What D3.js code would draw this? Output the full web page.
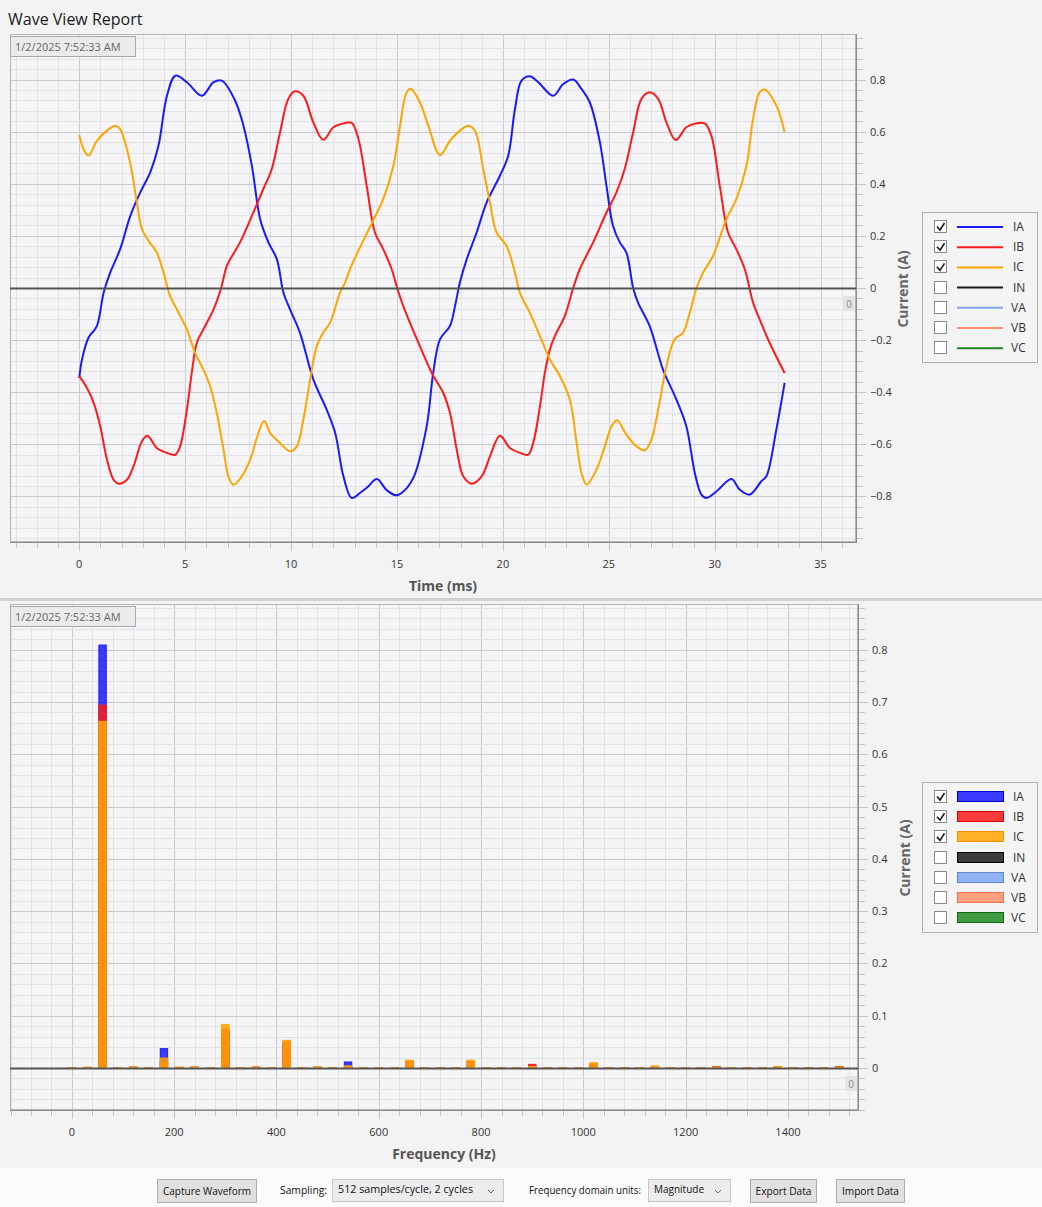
<!DOCTYPE html>
<html><head><meta charset="utf-8">
<script src="https://cdn.jsdelivr.net/npm/d3@7"></script>
<style>
html,body{margin:0;padding:0;background:#f3f3f3;}
svg{display:block;font-family:"Open Sans","Noto Sans",sans-serif;}
</style></head><body>
<svg id="c" width="1042" height="1207"></svg>
<script>
// ---------------- DATA ----------------
const TITLE = "Wave View Report";
const TIMESTAMP = "1/2/2025 7:52:33 AM";
const CHANNELS = ["IA","IB","IC","IN","VA","VB","VC"];
const CHANNEL_ON = [true,true,true,false,false,false,false];
const CHANNEL_COLORS = ["#1a1aff","#ff1a1a","#ffa500","#1a1a1a","#7fa6ee","#ff8f6b","#228b22"];
const CHANNEL_DARK = ["#0000cc","#dd0000","#f09000","#000000","#5f86d0","#f07050","#116611"];

const TIME_TICKS = [0,5,10,15,20,25,30,35];
const WAVE_Y_TICKS = [-0.8,-0.6,-0.4,-0.2,0,0.2,0.4,0.6,0.8];
const FREQ_TICKS = [0,200,400,600,800,1000,1200,1400];
const SPEC_Y_TICKS = [0,0.1,0.2,0.3,0.4,0.5,0.6,0.7,0.8];

// time (ms), current (A)
const IA_WAVE = [[0,-0.345],[0.13,-0.274],[0.44,-0.19],[0.83,-0.146],[1.15,-0.018],[1.46,0.059],[1.93,0.149],[2.41,0.277],[2.88,0.367],[3.35,0.444],[3.74,0.546],[4.14,0.738],[4.54,0.815],[5.08,0.79],[5.79,0.738],[6.34,0.79],[6.73,0.796],[7.36,0.719],[7.75,0.623],[8.15,0.469],[8.54,0.264],[8.93,0.175],[9.33,0.11],[9.64,-0.018],[9.95,-0.082],[10.42,-0.172],[11.05,-0.351],[11.68,-0.467],[12.08,-0.556],[12.47,-0.723],[12.86,-0.806],[13.25,-0.787],[13.6,-0.765],[14.05,-0.733],[14.5,-0.775],[14.95,-0.796],[15.25,-0.785],[15.77,-0.729],[16.4,-0.531],[16.71,-0.326],[17.03,-0.197],[17.5,-0.146],[17.74,-0.069],[17.97,0.021],[18.29,0.11],[18.76,0.213],[19.23,0.328],[19.86,0.431],[20.25,0.508],[20.57,0.687],[20.88,0.796],[21.27,0.813],[21.67,0.79],[22.37,0.738],[22.85,0.783],[23.32,0.8],[23.71,0.764],[24.1,0.713],[24.58,0.559],[24.89,0.392],[25.2,0.238],[25.52,0.175],[25.83,0.136],[26.15,0],[26.38,-0.056],[26.93,-0.146],[27.56,-0.313],[28.19,-0.428],[28.66,-0.531],[29.06,-0.71],[29.37,-0.793],[29.61,-0.806],[30.08,-0.781],[30.79,-0.733],[31.18,-0.774],[31.65,-0.793],[32.2,-0.742],[32.44,-0.723],[32.91,-0.543],[33.3,-0.364]];
const IB_WAVE = [[0,-0.338],[0.36,-0.383],[0.68,-0.441],[0.99,-0.531],[1.31,-0.659],[1.62,-0.736],[1.86,-0.751],[2.25,-0.736],[2.56,-0.685],[2.96,-0.588],[3.22,-0.567],[3.66,-0.614],[4.14,-0.633],[4.53,-0.64],[4.76,-0.608],[5.08,-0.467],[5.31,-0.326],[5.55,-0.21],[5.86,-0.159],[6.34,-0.082],[6.7,0],[6.97,0.085],[7.59,0.175],[8.22,0.29],[8.69,0.38],[9.09,0.457],[9.48,0.598],[9.87,0.726],[10.19,0.755],[10.58,0.738],[11.05,0.636],[11.52,0.569],[12.0,0.617],[12.47,0.632],[12.86,0.634],[13.18,0.572],[13.57,0.392],[13.96,0.213],[14.35,0.149],[14.75,0.072],[15.0,0.002],[15.3,-0.07],[15.61,-0.133],[16.08,-0.223],[16.64,-0.326],[17.18,-0.402],[17.5,-0.479],[17.82,-0.62],[18.13,-0.723],[18.52,-0.751],[19.0,-0.723],[19.39,-0.646],[19.86,-0.567],[20.33,-0.614],[20.8,-0.633],[21.19,-0.64],[21.43,-0.595],[21.75,-0.454],[21.98,-0.326],[22.22,-0.236],[22.45,-0.185],[22.92,-0.108],[23.32,0],[23.63,0.072],[24.26,0.175],[24.89,0.29],[25.36,0.367],[25.75,0.457],[26.15,0.598],[26.54,0.726],[26.93,0.751],[27.33,0.726],[27.72,0.636],[28.16,0.568],[28.66,0.617],[29.14,0.632],[29.53,0.632],[29.84,0.585],[30.24,0.392],[30.63,0.213],[31.02,0.149],[31.42,0.072],[31.81,-0.056],[32.12,-0.12],[32.59,-0.21],[33.3,-0.326]];
const IC_WAVE = [[0,0.587],[0.2,0.533],[0.44,0.508],[0.83,0.565],[1.31,0.604],[1.7,0.623],[1.93,0.61],[2.25,0.533],[2.49,0.444],[2.72,0.328],[2.96,0.226],[3.27,0.181],[3.66,0.136],[3.98,0.059],[4.29,-0.031],[4.69,-0.095],[5.08,-0.159],[5.47,-0.249],[5.86,-0.313],[6.18,-0.377],[6.49,-0.479],[6.81,-0.62],[7.04,-0.723],[7.28,-0.755],[7.67,-0.723],[8.07,-0.659],[8.46,-0.556],[8.73,-0.511],[9.01,-0.556],[9.48,-0.595],[9.95,-0.627],[10.27,-0.608],[10.58,-0.505],[10.9,-0.351],[11.21,-0.223],[11.52,-0.172],[11.84,-0.133],[12.31,-0.018],[12.55,0.021],[12.78,0.072],[13.25,0.155],[13.88,0.26],[14.35,0.341],[14.83,0.469],[15.14,0.62],[15.45,0.75],[15.65,0.765],[16.08,0.713],[16.48,0.623],[17.03,0.51],[17.5,0.565],[17.97,0.604],[18.37,0.623],[18.68,0.604],[19.07,0.457],[19.39,0.328],[19.7,0.213],[20.17,0.162],[20.57,0.059],[20.8,-0.018],[21.27,-0.095],[21.75,-0.185],[22.22,-0.274],[22.69,-0.338],[23.16,-0.428],[23.48,-0.595],[23.71,-0.71],[23.95,-0.755],[24.42,-0.697],[24.81,-0.608],[25.13,-0.531],[25.39,-0.508],[25.83,-0.563],[26.31,-0.608],[26.7,-0.623],[27.01,-0.582],[27.33,-0.467],[27.72,-0.3],[28.11,-0.197],[28.5,-0.172],[28.82,-0.095],[29.14,0],[29.45,0.059],[29.92,0.123],[30.55,0.264],[31.02,0.341],[31.5,0.469],[31.81,0.649],[32.12,0.751],[32.36,0.762],[32.91,0.7],[33.3,0.598]];

const FREQ_BINS = [0,30,60,90,120,150,180,210,240,270,
 300,330,360,390,420,450,480,510,540,570,
 600,630,660,690,720,750,780,810,840,870,
 900,930,960,990,1020,1050,1080,1110,1140,1170,
 1200,1230,1260,1290,1320,1350,1380,1410,1440,1470,
 1500];
const IA_SPECTRUM = [0.001,0.001,0.809,0.001,0.001,0.001,0.037,0.001,0.001,0.001,
 0.070,0.001,0.001,0.001,0.045,0.001,0.001,0.001,0.0115,0.001,
 0.001,0.001,0.012,0.001,0.001,0.001,0.012,0.001,0.001,0.001,
 0.004,0.001,0.001,0.001,0.006,0.001,0.001,0.001,0.002,0.001,
 0.001,0.001,0.002,0.001,0.001,0.001,0.002,0.001,0.001,0.001,
 0.002];
const IB_SPECTRUM = [0.001,0.001,0.694,0.001,0.002,0.001,0.012,0.001,0.002,0.001,
 0.075,0.001,0.002,0.001,0.050,0.001,0.002,0.001,0.003,0.001,
 0.001,0.001,0.013,0.001,0.001,0.001,0.013,0.001,0.001,0.001,
 0.007,0.001,0.001,0.001,0.008,0.001,0.001,0.001,0.003,0.001,
 0.001,0.001,0.003,0.001,0.001,0.001,0.002,0.001,0.001,0.001,
 0.003];
const IC_SPECTRUM = [0.001,0.002,0.663,0.001,0.002,0.001,0.019,0.002,0.002,0.001,
 0.083,0.001,0.002,0.001,0.053,0.001,0.002,0.001,0.004,0.001,
 0.001,0.001,0.015,0.001,0.001,0.001,0.015,0.001,0.001,0.001,
 0.003,0.001,0.001,0.001,0.010,0.001,0.001,0.001,0.004,0.001,
 0.001,0.001,0.002,0.001,0.001,0.001,0.003,0.001,0.001,0.001,
 0.002];

// ---------------- DRAW ----------------
const svg = d3.select("#c");
const W = 1042, H = 1207;
const fmt = d3.format("~g");

svg.append("rect").attr("x",0).attr("y",0).attr("width",W).attr("height",H).attr("fill","#f3f3f3");
svg.append("text").attr("x",8).attr("y",25).attr("font-size",16).attr("fill","#1a1a1a").text(TITLE);

function panel(o){
  const g = svg.append("g");
  const {x, y} = o;
  const [L,R] = x.range(); const [B,T] = y.range();
  const id = "clip"+o.key;
  svg.append("clipPath").attr("id",id).append("rect").attr("x",L).attr("y",T).attr("width",R-L).attr("height",B-T);
  g.append("rect").attr("x",L).attr("y",T).attr("width",R-L).attr("height",B-T).attr("fill","#f5f5f7");
  const grid = g.append("g").attr("clip-path",`url(#${id})`);
  // vertical grid
  for (let k=o.xMinK[0]; k<=o.xMinK[1]; k++){
    const v = k*o.xMinor, px = Math.round(x(v))+0.5, major = k%o.xMajEvery===0;
    grid.append("line").attr("x1",px).attr("x2",px).attr("y1",T).attr("y2",B)
      .attr("stroke", major?"#c9c9ce":"#e2e2e7").attr("stroke-width",1);
  }
  for (let k=o.yMinK[0]; k<=o.yMinK[1]; k++){
    const v = k*o.yMinor, py = Math.round(y(v))+0.5, major = k%o.yMajEvery===0;
    grid.append("line").attr("x1",L).attr("x2",R).attr("y1",py).attr("y2",py)
      .attr("stroke", major?"#c9c9ce":"#e2e2e7").attr("stroke-width",1);
  }
  // frame
  g.append("rect").attr("x",L+0.5).attr("y",T+0.5).attr("width",R-L-1).attr("height",B-T-1)
    .attr("fill","none").attr("stroke","#b4b4b4");
  g.append("line").attr("x1",R+0.5).attr("x2",R+0.5).attr("y1",T).attr("y2",B+1).attr("stroke","#8c8c8c");
  g.append("line").attr("x1",L).attr("x2",R+1).attr("y1",B+0.5).attr("y2",B+0.5).attr("stroke","#8c8c8c");
  // right axis ticks
  const ax = g.append("g");
  for (let k=o.yMinK[0]; k<=o.yMinK[1]; k++){
    const v = k*o.yMinor, py = Math.round(y(v))+0.5, major = k%o.yMajEvery===0;
    ax.append("line").attr("x1",R+1).attr("x2",R+(major?10:7)).attr("y1",py).attr("y2",py)
      .attr("stroke", "#c4c4c4");
  }
  o.yTicks.forEach(v=>{
    ax.append("text").attr("x",R+14).attr("y",y(v)+4).attr("font-size",11).attr("fill","#333").text(fmt(v));
  });
  for (let k=o.xMinK[0]; k<=o.xMinK[1]; k++){
    const v = k*o.xMinor, px = Math.round(x(v))+0.5, major = k%o.xMajEvery===0;
    ax.append("line").attr("x1",px).attr("x2",px).attr("y1",B+1).attr("y2",B+(major?9:6))
      .attr("stroke", "#c4c4c4");
  }
  o.xTicks.forEach(v=>{
    ax.append("text").attr("x",x(v)).attr("y",B+26).attr("text-anchor","middle").attr("font-size",11).attr("fill","#333").text(fmt(v));
  });
  ax.append("text").attr("x",(L+R)/2+10).attr("y",B+49).attr("text-anchor","middle").attr("font-size",14)
    .attr("font-weight","bold").attr("fill","#555").text(o.xTitle);
  ax.append("text").attr("transform",`translate(${R+52},${(T+B)/2+o.yTitleDy}) rotate(-90)`).attr("text-anchor","middle")
    .attr("font-size",14).attr("font-weight","bold").attr("fill","#666").text("Current (A)");
  // marks
  const marks = g.append("g").attr("clip-path",`url(#${id})`);
  o.drawMarks(marks);
  // zero line
  g.append("line").attr("x1",L).attr("x2",R).attr("y1",Math.round(y(0))+0.5).attr("y2",Math.round(y(0))+0.5)
    .attr("stroke","#555").attr("stroke-width",2).attr("clip-path",`url(#${id})`);
  // zero tag
  const zy = y(0);
  g.append("rect").attr("x",R-13).attr("y",zy+8).attr("width",12).attr("height",15).attr("fill","#e4e4e4");
  g.append("text").attr("x",R-7).attr("y",zy+19.5).attr("text-anchor","middle").attr("font-size",10).attr("fill","#888").text("0");
  // timestamp
  g.append("rect").attr("x",L+0.5).attr("y",T+2.5).attr("width",125).attr("height",20).attr("fill","#ebebeb").attr("stroke","#a8a8a8");
  g.append("text").attr("x",L+5).attr("y",T+17).attr("font-size",11).attr("fill","#666").text(TIMESTAMP);
  return g;
}

// ---- Top panel: waveform ----
const tx = d3.scaleLinear().domain([-3.27, 36.67]).range([10, 856]);
const ty = d3.scaleLinear().domain([-0.975, 0.975]).range([542, 34]);
const waves = [IA_WAVE, IB_WAVE, IC_WAVE];
panel({key:"top", x:tx, y:ty, xMinor:1, xMinK:[-3,36], xMajEvery:5, yMinor:0.04, yMinK:[-24,24], yMajEvery:5,
  xTicks:TIME_TICKS, yTicks:WAVE_Y_TICKS, xTitle:"Time (ms)", yTitleDy:1,
  drawMarks:(m)=>{
    const line = d3.line().x(d=>tx(d[0])).y(d=>ty(d[1])).curve(d3.curveCatmullRom.alpha(0.5));
    waves.forEach((w,i)=>{
      m.append("path").attr("d",line(w)).attr("fill","none").attr("stroke",CHANNEL_COLORS[i]).attr("stroke-width",2);
    });
  }});

// separator
svg.append("rect").attr("x",0).attr("y",598).attr("width",W).attr("height",3).attr("fill","#d2d2d2");

// ---- Bottom panel: spectrum ----
const fx = d3.scaleLinear().domain([-121, 1537]).range([10, 858]);
const fy = d3.scaleLinear().domain([-0.0803, 0.8875]).range([1110, 604]);
const spectra = [IA_SPECTRUM, IB_SPECTRUM, IC_SPECTRUM];
panel({key:"bot", x:fx, y:fy, xMinor:40, xMinK:[-3,38], xMajEvery:5, yMinor:0.02, yMinK:[-4,44], yMajEvery:5,
  xTicks:FREQ_TICKS, yTicks:SPEC_Y_TICKS, xTitle:"Frequency (Hz)", yTitleDy:1,
  drawMarks:(m)=>{
    spectra.forEach((s,i)=>{
      m.selectAll(null).data(FREQ_BINS.map((f,j)=>[f,s[j]])).enter().append("rect")
        .attr("x",d=>fx(d[0]-7.2)).attr("width",d=>fx(d[0]+7.2)-fx(d[0]-7.2))
        .attr("y",d=>fy(d[1])).attr("height",d=>fy(0)-fy(d[1]))
        .attr("fill",CHANNEL_COLORS[i]).attr("fill-opacity",0.85)
        .attr("stroke",CHANNEL_COLORS[i]).attr("stroke-width",1);
    });
  }});

// ---- Legends ----
function legend(y0, swatch){
  const g = svg.append("g");
  g.append("rect").attr("x",922.5).attr("y",y0+0.5).attr("width",115).attr("height",150).attr("fill","#f4f4f4").attr("stroke","#b0b0b0");
  CHANNELS.forEach((c,i)=>{
    const cy = y0 + 15 + i*20.2;
    g.append("rect").attr("x",934.5).attr("y",Math.round(cy)-6.5).attr("width",12).attr("height",12).attr("fill","#fff").attr("stroke","#8a8a8a");
    if (CHANNEL_ON[i]) g.append("path").attr("d",`M${937},${cy-0.5} L${940},${cy+3} L${944.5},${cy-4}`).attr("fill","none").attr("stroke","#222").attr("stroke-width",1.7);
    if (swatch){
      g.append("rect").attr("x",957.5).attr("y",Math.round(cy)-5.5).attr("width",46).attr("height",10)
        .attr("fill",CHANNEL_COLORS[i]).attr("fill-opacity",0.85).attr("stroke",CHANNEL_DARK[i]).attr("stroke-width",1);
    } else {
      g.append("line").attr("x1",957).attr("x2",1003).attr("y1",cy).attr("y2",cy).attr("stroke",CHANNEL_COLORS[i]).attr("stroke-width",2);
    }
    g.append("text").attr("x",c.length>1&&c[0]==="V"?1011:1013).attr("y",cy+4).attr("font-size",12).attr("fill","#333").text(c);
  });
}
legend(212, false);
legend(782, true);

// ---- Control bar ----
const bar = svg.append("g");
bar.append("rect").attr("x",0).attr("y",1168).attr("width",W).attr("height",39).attr("fill","#fbfbfb");
function button(x,w,label,tl){
  bar.append("rect").attr("x",x+0.5).attr("y",1179.5).attr("width",w).attr("height",23).attr("fill","#e1e1e1").attr("stroke","#adadad");
  bar.append("text").attr("x",x+w/2+0.5).attr("y",1195).attr("text-anchor","middle").attr("font-size",11).attr("fill","#111")
    .attr("textLength",tl).attr("lengthAdjust","spacingAndGlyphs").text(label);
}
function label(x,text,tl){
  bar.append("text").attr("x",x).attr("y",1194).attr("font-size",11).attr("fill","#111")
    .attr("textLength",tl).attr("lengthAdjust","spacingAndGlyphs").text(text);
}
function select(x,w,text,tl){
  bar.append("rect").attr("x",x+0.5).attr("y",1179.5).attr("width",w).attr("height",22).attr("fill","#ececec").attr("stroke","#c6c6c6");
  bar.append("text").attr("x",x+6).attr("y",1193).attr("font-size",11).attr("fill","#111")
    .attr("textLength",tl).attr("lengthAdjust","spacingAndGlyphs").text(text);
  const cx = x+w-12;
  bar.append("path").attr("d",`M${cx-3},${1190} L${cx},${1193} L${cx+3},${1190}`).attr("fill","none").attr("stroke","#666").attr("stroke-width",1);
}
button(157,99,"Capture Waveform",88);
label(280,"Sampling:",47);
select(332,171,"512 samples/cycle, 2 cycles",135);
label(529,"Frequency domain units:",112);
select(648,82,"Magnitude",50);
button(750,66,"Export Data",56);
button(836,68,"Import Data",57);
</script>
</body></html>
